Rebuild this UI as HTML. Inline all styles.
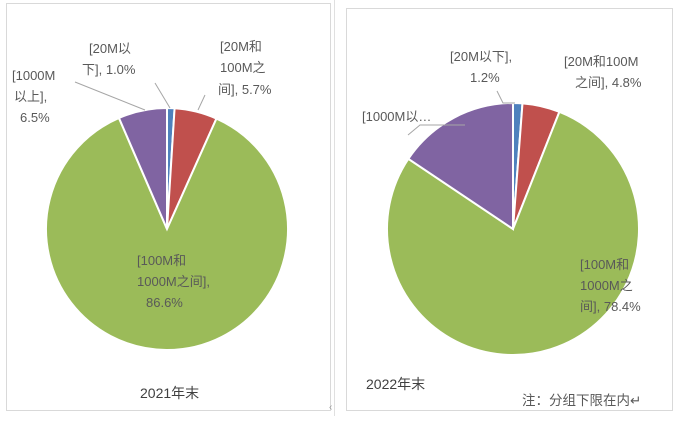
<!DOCTYPE html>
<html><head><meta charset="utf-8"><style>
body{margin:0;background:#fff;width:675px;height:416px;overflow:hidden}
svg text{font-family:"Liberation Sans","Noto Sans CJK SC",sans-serif;font-size:13px;fill:#595959}
</style></head><body>
<svg id="s" width="675" height="416" xmlns="http://www.w3.org/2000/svg">
<rect x="6.5" y="3.5" width="324" height="407" fill="#fff" stroke="#d9d9d9"/>
<rect x="346.5" y="8.5" width="326" height="402" fill="#fff" stroke="#d9d9d9"/>
<line x1="334.5" y1="0" x2="334.5" y2="416" stroke="#e0e0e0"/>
<text x="329" y="410" style="font-size:10px;fill:#999">‹</text>
<g id="p1"></g><g id="p2"></g>
<g stroke="#a6a6a6" fill="none" stroke-width="1">
<polyline points="75,82 145,110"/>
<polyline points="155,83 170,108"/>
<polyline points="205,95 198,110"/>
<polyline points="497,91 503,103 515,103"/>
<polyline points="408,135 420,125 465,125"/>
</g>
<text x="89" y="53">[20M以</text><text x="82" y="74">下], 1.0%</text>
<text x="220" y="51">[20M和</text><text x="220" y="72">100M之</text><text x="218" y="94">间], 5.7%</text>
<text x="12" y="80">[1000M</text><text x="14" y="101">以上],</text><text x="20" y="122">6.5%</text>
<text x="137" y="265">[100M和</text><text x="137" y="286">1000M之间],</text><text x="146" y="307">86.6%</text>
<text x="140" y="398" style="font-size:14px;fill:#404040">2021年末</text>
<text x="450" y="61">[20M以下],</text><text x="470" y="82">1.2%</text>
<text x="564" y="66">[20M和100M</text><text x="575" y="87">之间], 4.8%</text>
<text x="362" y="121">[1000M以…</text>
<text x="580" y="269">[100M和</text><text x="580" y="290">1000M之</text><text x="580" y="311">间], 78.4%</text>
<text x="366" y="389" style="font-size:14px;fill:#404040">2022年末</text>
<text x="522" y="405" style="font-size:13.5px;fill:#595959">注：分组下限在内↵</text>
</svg>
<script>
function pie(id,cx,cy,r,vals){
 var cols=["#4F81BD","#C0504D","#9BBB59","#8064A2"],a=-Math.PI/2,h="";
 vals.forEach(function(v,i){var b=a+v/100*2*Math.PI;
  var x1=cx+r*Math.cos(a),y1=cy+r*Math.sin(a),x2=cx+r*Math.cos(b),y2=cy+r*Math.sin(b);
  h+='<path d="M'+cx+','+cy+'L'+x1+','+y1+'A'+r+','+r+' 0 '+(v>50?1:0)+' 1 '+x2+','+y2+'Z" fill="'+cols[i]+'" stroke="#fff" stroke-width="2"/>';a=b;});
 document.getElementById(id).innerHTML=h;}
pie("p1",167,229,121,[1.0,5.7,86.8,6.5]);
pie("p2",513,229,126,[1.2,4.8,78.4,15.6]);
</script>
</body></html>
